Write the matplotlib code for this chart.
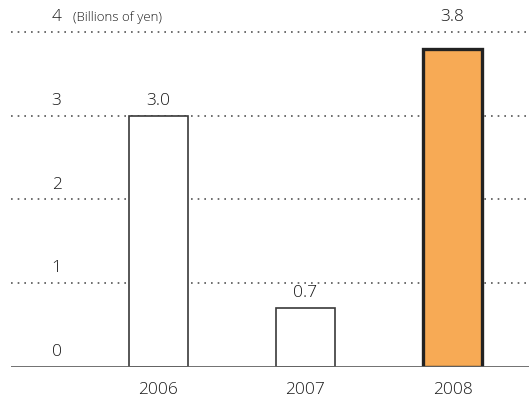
import matplotlib.pyplot as plt

years = ["2006", "2007", "2008"]
values = [3.0, 0.7, 3.8]
value_labels = ["3.0", "0.7", "3.8"]
fill_colors = ["white", "white", "#F7AA55"]
edge_colors = ["#3a3a3a", "#3a3a3a", "#222222"]
edge_widths = [1.2, 1.2, 2.4]
y_ticks = [0, 1, 2, 3, 4]
unit_label = "(Billions of yen)"

plt.rcParams["font.family"] = ["Open Sans", "DejaVu Sans"]
plt.rcParams["font.weight"] = "light"
text_color = "#1a1a1a"

fig = plt.figure(figsize=(5.29, 4.01), dpi=100)
ax = fig.add_axes([11 / 529, 0.0848, 1 - 11 / 529, 0.8668])
ax.set_xlim(-1.0, 2.52)
ax.set_ylim(0, 4.15)

# dotted gridlines behind bars
for t in y_ticks[1:]:
    ax.axhline(t, color="#555555", linestyle=(0, (1, 3)), linewidth=1.2, zorder=1)
ax.axhline(0, color="#666666", linewidth=1.3, zorder=3)

x = list(range(len(years)))
ax.bar(x, values, width=0.4, color=fill_colors, edgecolor=edge_colors,
       linewidth=edge_widths, zorder=2)

# value labels above bars (the tallest one sits above the top gridline)
for xi, v, lab in zip(x, values, value_labels):
    y = v if v < 3.5 else 4
    ax.annotate(lab, (xi, y), xytext=(0, 5), textcoords="offset points",
                ha="center", va="bottom", fontsize=12.5, color=text_color)

# y tick labels sitting above gridlines
for t in y_ticks:
    ax.annotate(str(t), (-0.69, t), xytext=(0, 5), textcoords="offset points",
                ha="center", va="bottom", fontsize=12.5, color=text_color)
ax.annotate(unit_label, (-0.58, 4), xytext=(0, 6), textcoords="offset points",
            ha="left", va="bottom", fontsize=9.5, color=text_color)

# year labels below axis
for xi, yr in zip(x, years):
    ax.annotate(yr, (xi, 0), xytext=(0, -11), textcoords="offset points",
                ha="center", va="top", fontsize=12.5, color=text_color)

for s in ax.spines.values():
    s.set_visible(False)
ax.set_xticks([])
ax.set_yticks([])

fig.savefig("out.png", dpi=100)
